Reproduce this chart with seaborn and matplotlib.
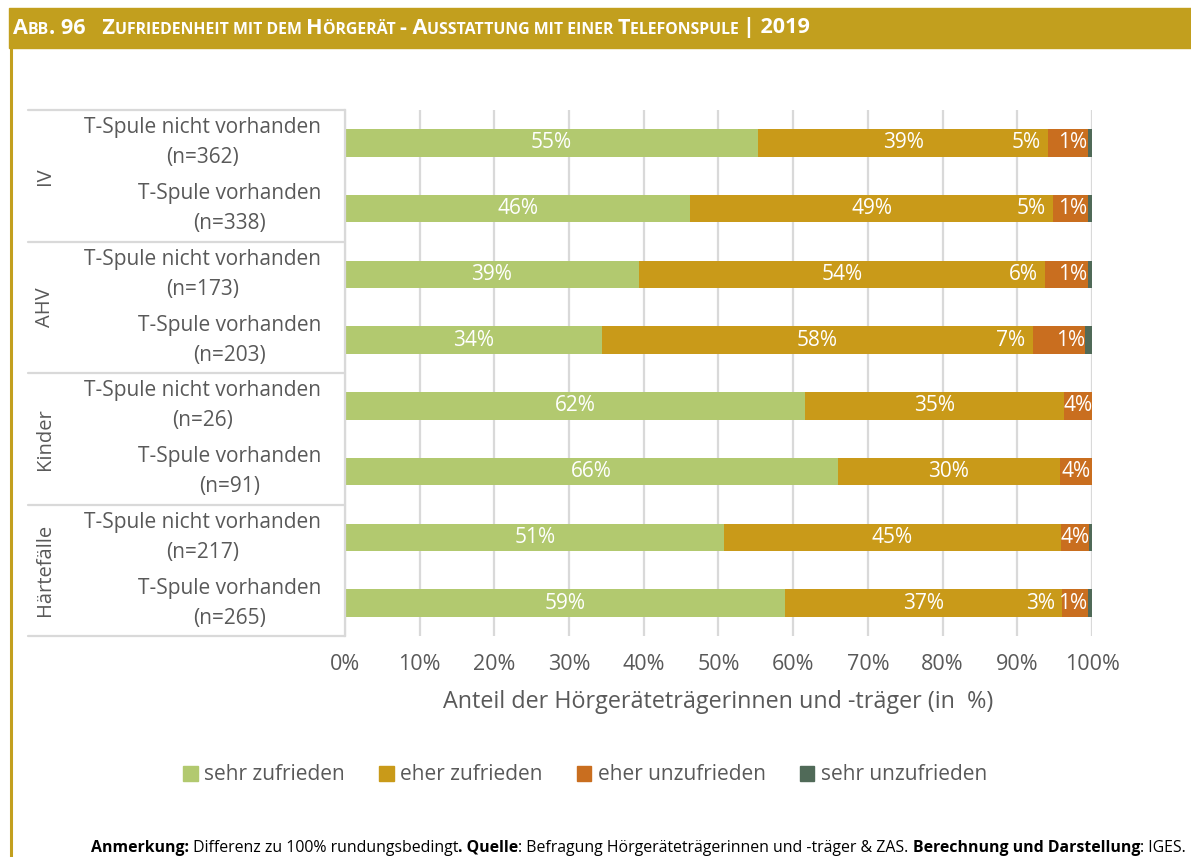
import matplotlib
matplotlib.use("Agg")
import matplotlib.pyplot as plt
import matplotlib.patches as mpatches
import matplotlib.transforms as mtrans
from matplotlib.lines import Line2D
from matplotlib.offsetbox import TextArea, HPacker, AnchoredOffsetbox
import seaborn as sns
import numpy as np

# Daten (in %)
gruppen = ["IV", "AHV", "Kinder", "Härtefälle"]
zeilen = [
    "T-Spule nicht vorhanden\n(n=362)",
    "T-Spule vorhanden\n(n=338)",
    "T-Spule nicht vorhanden\n(n=173)",
    "T-Spule vorhanden\n(n=203)",
    "T-Spule nicht vorhanden\n(n=26)",
    "T-Spule vorhanden\n(n=91)",
    "T-Spule nicht vorhanden\n(n=217)",
    "T-Spule vorhanden\n(n=265)",
]
kategorien = ["sehr zufrieden", "eher zufrieden", "eher unzufrieden", "sehr unzufrieden"]
sehr_zufrieden = [55.3, 46.2, 39.3, 34.4, 61.6, 66.0, 50.8, 58.9]
eher_zufrieden = [38.8, 48.6, 54.4, 57.7, 34.6, 29.7, 45.0, 37.1]
eher_unzufrieden = [5.3, 4.6, 5.7, 7.0, 3.8, 4.3, 3.8, 3.4]
sehr_unzufrieden = [0.6, 0.6, 0.6, 0.9, 0.0, 0.0, 0.4, 0.6]
x_ticks = [0, 10, 20, 30, 40, 50, 60, 70, 80, 90, 100]

farben = ["#B2C96F", "#C99A19", "#C96E1F", "#506A58"]
gold = "#C29F1E"
grau = "#595959"
linie = "#D9D9D9"

W, H = 1191, 857


def fx(px):
    return px / W


def fy(py):
    return 1 - py / H


sns.set_theme(style="white")
plt.rcParams["font.family"] = ["Open Sans", "DejaVu Sans"]

fig = plt.figure(figsize=(W / 100, H / 100), dpi=100)
ax = fig.add_axes([fx(345), fy(636), fx(1092) - fx(345), fy(110) - fy(636)])

werte = np.array([sehr_zufrieden, eher_zufrieden, eher_unzufrieden, sehr_unzufrieden])
kum = np.cumsum(werte, axis=0)

# gestapelte Balken: kumulierte Summen von hinten nach vorne zeichnen
for k in reversed(range(len(kategorien))):
    sns.barplot(x=kum[k], y=zeilen, order=zeilen, color=farben[k], orient="h",
                width=0.42, saturation=1, errorbar=None, linewidth=0, ax=ax)

ax.set_xlim(0, 100)
ax.set_ylim(7.5, -0.5)
ax.set_xticks(x_ticks)
ax.set_xticklabels([f"{v}%" for v in x_ticks])
ax.xaxis.grid(True, color=linie, linewidth=1.6)
ax.set_axisbelow(True)
ax.tick_params(axis="x", length=0, pad=13, labelsize=15.5, labelcolor=grau)
ax.tick_params(axis="y", length=0, pad=17, labelsize=15, labelcolor=grau)
for lbl in ax.get_yticklabels():
    lbl.set_multialignment("center")
    lbl.set_linespacing(1.55)
    lbl.set_verticalalignment("center")
for s in ["top", "right", "bottom"]:
    ax.spines[s].set_visible(False)
ax.spines["left"].set_color(linie)
ax.spines["left"].set_linewidth(1.6)
ax.set_ylabel("")
ax.set_xlabel("Anteil der Hörgeräteträgerinnen und -träger (in  %)",
              fontsize=16.8, color=grau, labelpad=11)

# Datenbeschriftungen
for i in range(len(zeilen)):
    links = kum[:, i] - werte[:, i]
    for k in range(2):
        ax.text(links[k] + werte[k, i] / 2, i, f"{werte[k, i]:.0f}%", color="white",
                fontsize=15, ha="center", va="center")
    if werte[3, i] >= 0.5:
        ax.text(links[2] - 1.0, i, f"{werte[2, i]:.0f}%", color="white",
                fontsize=15, ha="right", va="center")
        ax.text(links[3], i, f"{werte[3, i]:.0f}%", color="white",
                fontsize=15, ha="right", va="center")
    else:
        ax.text(links[2] + werte[2, i] / 2, i, f"{werte[2, i]:.0f}%", color="white",
                fontsize=15, ha="center", va="center")

# Tabellenlinien und Gruppenbeschriftung links
tr = mtrans.blended_transform_factory(fig.transFigure, ax.transData)
for y in [-0.5, 1.5, 3.5, 5.5, 7.5]:
    ax.add_line(Line2D([fx(28), fx(345)], [y, y], transform=tr, color=linie,
                       linewidth=1.6, clip_on=False))
for j, g in enumerate(gruppen):
    ax.text(fx(45), 2 * j + 0.5, g, transform=tr, rotation=90, ha="center",
            va="center", fontsize=14.5, color=grau)

# Legende
handles = [mpatches.Patch(color=c, label=l) for c, l in zip(farben, kategorien)]
fig.legend(handles=handles, loc="center", bbox_to_anchor=(fx(585), fy(775)),
           ncol=4, frameon=False, fontsize=15, handlelength=0.7, handleheight=0.7,
           handletextpad=0.3, columnspacing=1.65, labelcolor=grau)

# Kopfzeile
fig.add_artist(mpatches.Rectangle((fx(9), fy(48)), 1 - fx(9), fy(8) - fy(48),
                                  transform=fig.transFigure, color=gold, zorder=0))
fig.add_artist(Line2D([fx(10.5), fx(10.5)], [0, fy(48)], transform=fig.transFigure,
                      color=gold, linewidth=2.2))

titel = "Abb. 96   Zufriedenheit mit dem Hörgerät - Ausstattung mit einer Telefonspule | 2019"
runs = []
for ch in titel:
    groesse = 11.45 if ch.islower() else 15.6
    if runs and (ch == " " or runs[-1][1] == groesse):
        runs[-1][0] += ch.upper()
    else:
        runs.append([ch.upper(), groesse])
kinder = [TextArea(t, textprops=dict(fontsize=s, fontweight="bold", color="white"))
          for t, s in runs]
box = AnchoredOffsetbox(loc="center left", child=HPacker(children=kinder, align="baseline", pad=0, sep=0),
                        bbox_to_anchor=(fx(13), fy(28)), bbox_transform=fig.transFigure,
                        frameon=False, pad=0, borderpad=0)
fig.add_artist(box)

# Fussnote
fuss = [("Anmerkung:", "bold"), (" Differenz zu 100% rundungsbedingt", "normal"),
        (". Quelle", "bold"), (": Befragung Hörgeräteträgerinnen und -träger & ZAS. ", "normal"),
        ("Berechnung und Darstellung", "bold"), (": IGES.", "normal")]
fkinder = [TextArea(t, textprops=dict(fontsize=11.4, fontweight=w, color="black"))
           for t, w in fuss]
fbox = AnchoredOffsetbox(loc="center right", child=HPacker(children=fkinder, align="baseline", pad=0, sep=0),
                         bbox_to_anchor=(fx(1186), fy(848)), bbox_transform=fig.transFigure,
                         frameon=False, pad=0, borderpad=0)
fig.add_artist(fbox)

fig.savefig("out.png", dpi=100)
